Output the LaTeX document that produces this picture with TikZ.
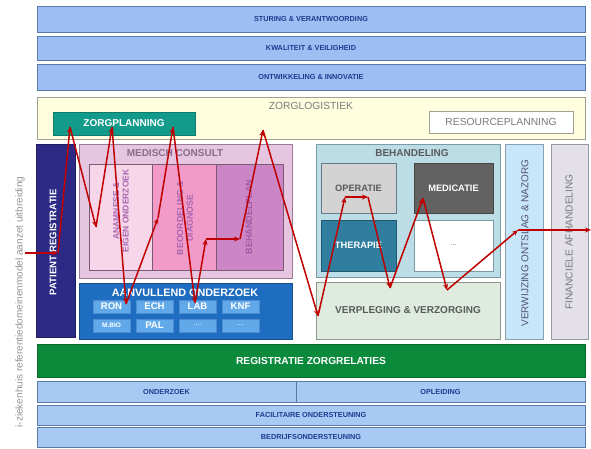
\documentclass[tikz,border=0pt]{standalone}
\usepackage{fontspec}
\setmainfont{Liberation Sans}
\usetikzlibrary{arrows.meta}

% palette
\definecolor{bandblue}{HTML}{9CBEF2}
\definecolor{bandlow}{HTML}{A8C9F3}
\definecolor{bandedge}{HTML}{5A7AA8}
\definecolor{bandtext}{HTML}{1F3A8F}
\definecolor{logfill}{HTML}{FFFFE0}
\definecolor{logedge}{HTML}{A0A090}
\definecolor{planfill}{HTML}{129A8A}
\definecolor{planedge}{HTML}{0E7A6E}
\definecolor{patfill}{HTML}{2D2A86}
\definecolor{consfill}{HTML}{E6C5E1}
\definecolor{consedge}{HTML}{9A7A95}
\definecolor{colA}{HTML}{F7D6EA}
\definecolor{colB}{HTML}{F29BC8}
\definecolor{colC}{HTML}{CD86C5}
\definecolor{coltext}{HTML}{A866B0}
\definecolor{coltextdark}{HTML}{A45AA6}
\definecolor{coledge}{HTML}{7A5A75}
\definecolor{aanfill}{HTML}{1F6DC0}
\definecolor{aanedge}{HTML}{1A4F8F}
\definecolor{smallfill}{HTML}{62A9EA}
\definecolor{smalledge}{HTML}{4F8BD0}
\definecolor{behfill}{HTML}{BCDDE6}
\definecolor{behedge}{HTML}{7A9AA5}
\definecolor{opfill}{HTML}{D3D3D3}
\definecolor{medfill}{HTML}{626262}
\definecolor{therfill}{HTML}{2F7E9F}
\definecolor{verpfill}{HTML}{DFEBDF}
\definecolor{verpedge}{HTML}{8A9A8A}
\definecolor{verwfill}{HTML}{C8E6FA}
\definecolor{verwedge}{HTML}{8AA0B0}
\definecolor{finfill}{HTML}{E3E0EA}
\definecolor{finedge}{HTML}{9A98A5}
\definecolor{regfill}{HTML}{0A8A3A}
\definecolor{regedge}{HTML}{0A6A2A}
\definecolor{greytext}{HTML}{7A7A7A}
\definecolor{darkgrey}{HTML}{5A5A5A}
\definecolor{flowred}{HTML}{C00000}

% box from corner (x1,y1) to corner (x2,y2), in pixel units
\newcommand\cellbox[7]{%
  \node[cell,#2,minimum width={#5pt-#3pt},minimum height={#6pt-#4pt}]
    (#1) at ({(#3+#5)/2},{(#4+#6)/2}) {#7};}

\newcommand\fs[1]{\fontsize{#1}{#1}\selectfont}

\tikzset{
  cell/.style={inner sep=0pt,outer sep=0pt,line width=0.8pt,align=center},
  topband/.style={fill=bandblue,draw=bandedge,text=bandtext,font=\bfseries\fs{7.3}},
  lowband/.style={fill=bandlow,draw=bandedge,text=bandtext,font=\bfseries\fs{7.3}},
  subcol/.style={draw=coledge,line width=0.7pt},
  small/.style={fill=smallfill,draw=smalledge,line width=0.6pt,text=white,font=\bfseries\fs{9.6}},
  title/.style={inner sep=0pt,font=\bfseries\fs{10}},
  flow/.style={draw=flowred,line width=1.5pt,line join=round,
    -{Stealth[length=6pt,width=5pt]}},
}

\begin{document}
\begin{tikzpicture}[x=1pt,y=-1pt]
\useasboundingbox (0,0) rectangle (591,448);
\fill[white] (0,0) rectangle (591,448);

% management layers
\cellbox{sturing}{topband}{37}{6}{585}{32}{STURING \& VERANTWOORDING}
\cellbox{kwaliteit}{topband}{37}{36}{585}{60}{KWALITEIT \& VEILIGHEID}
\cellbox{ontwikkeling}{topband}{37}{64}{585}{90}{ONTWIKKELING \& INNOVATIE}

% care logistics
\cellbox{logistiek}{fill=logfill,draw=logedge}{37}{97}{585}{139}{}
\node[title,font=\fs{10.3},text=greytext] (logistiek-t) at (311,106) {ZORGLOGISTIEK};
\cellbox{planning}{fill=planfill,draw=planedge,text=white,font=\bfseries\fs{10}}{53}{112}{195}{135}{ZORGPLANNING}
\cellbox{resource}{fill=white,draw=logedge,text=greytext,font=\fs{10.3}}{429}{111}{573}{133}{RESOURCEPLANNING}

% patient registration
\cellbox{patient}{fill=patfill,draw=patfill!70!black}{36}{144}{75}{337}{}
\node[rotate=90,inner sep=0pt,text=white,font=\bfseries\fs{9.6}] (patient-t) at (53,242) {PATIENT REGISTRATIE};

% medical consult
\cellbox{consult}{fill=consfill,draw=consedge}{79}{144}{292}{278}{}
\node[title,text=greytext!90!magenta] (consult-t) at (175,153) {MEDISCH CONSULT};
\cellbox{anamnese}{subcol,fill=colA}{89}{164}{152}{270}{}
\cellbox{diagnose}{subcol,fill=colB}{152}{164}{216}{270}{}
\cellbox{plan}{subcol,fill=colC}{216}{164}{283}{270}{}
\node[rotate=90,inner sep=0pt,align=center,text=coltext,font=\bfseries\fs{8.5}] (anamnese-t) at (121,211) {ANAMNESE \&\\[1pt]EIGEN ONDERZOEK};
\node[rotate=90,inner sep=0pt,align=center,text=coltext,font=\bfseries\fs{8.8}] (diagnose-t) at (185,218) {BEOORDELING \&\\[1pt]DIAGNOSE};
\node[rotate=90,inner sep=0pt,text=coltextdark,font=\bfseries\fs{9}] (plan-t) at (249,217) {BEHANDELPLAN};

% additional examinations
\cellbox{aanvullend}{fill=aanfill,draw=aanedge}{79}{283}{292}{339}{}
\node[title,text=white,font=\bfseries\fs{10.8}] (aanvullend-t) at (185,293) {AANVULLEND ONDERZOEK};
\cellbox{ron}{small}{93}{300}{130}{313}{RON}
\cellbox{ech}{small}{136}{300}{173}{313}{ECH}
\cellbox{lab}{small}{179}{300}{216}{313}{LAB}
\cellbox{knf}{small}{222}{300}{259}{313}{KNF}
\cellbox{mbio}{small,font=\bfseries\fs{6.5}}{93}{319}{130}{332}{M.BIO}
\cellbox{pal}{small}{136}{319}{173}{332}{PAL}
\cellbox{extraA}{small,font=\fs{7}}{179}{319}{216}{332}{....}
\cellbox{extraB}{small,font=\fs{7}}{222}{319}{259}{332}{....}

% treatment
\cellbox{behandeling}{fill=behfill,draw=behedge}{316}{144}{500}{277}{}
\node[title,font=\bfseries\fs{10},text=darkgrey] (behandeling-t) at (412,153) {BEHANDELING};
\cellbox{operatie}{fill=opfill,draw=behedge!80!black,text=darkgrey,font=\bfseries\fs{9.3}}{321}{163}{396}{213}{OPERATIE}
\cellbox{medicatie}{fill=medfill,draw=medfill!70!black,text=white,font=\bfseries\fs{9.3}}{414}{163}{493}{213}{MEDICATIE}
\cellbox{therapie}{fill=therfill,draw=therfill!70!black,text=white,font=\bfseries\fs{9.3}}{321}{220}{396}{271}{THERAPIE}
\cellbox{overig}{fill=white,draw=behedge,text=greytext,font=\fs{7.5}}{414}{220}{493}{271}{...}

% nursing
\cellbox{verpleging}{fill=verpfill,draw=verpedge,text=darkgrey,font=\bfseries\fs{10}}{316}{282}{500}{339}{VERPLEGING \& VERZORGING}

% referral and financial handling
\cellbox{verwijzing}{fill=verwfill,draw=verwedge}{505}{144}{543}{339}{}
\node[rotate=90,inner sep=0pt,text=darkgrey!90!blue,font=\fs{10}] (verwijzing-t) at (525,243) {VERWIJZING ONTSLAG \& NAZORG};
\cellbox{financieel}{fill=finfill,draw=finedge}{551}{144}{588}{339}{}
\node[rotate=90,inner sep=0pt,text=greytext,font=\fs{10.2}] (financieel-t) at (569,242) {FINANCIELE AFHANDELING};

% care relations
\cellbox{relaties}{fill=regfill,draw=regedge,text=white,font=\bfseries\fs{10.2}}{37}{344}{585}{377}{REGISTRATIE ZORGRELATIES}

% support layers
\cellbox{onderzoek}{lowband}{37}{381}{296}{402}{ONDERZOEK}
\cellbox{opleiding}{lowband}{296}{381}{585}{402}{OPLEIDING}
\cellbox{facilitair}{lowband}{37}{405}{585}{425}{FACILITAIRE ONDERSTEUNING}
\cellbox{bedrijf}{lowband}{37}{427}{585}{447.5}{BEDRIJFSONDERSTEUNING}

% side caption
\node[rotate=90,inner sep=0pt,text=greytext!80!white,font=\fs{10}] (caption) at (20,302) {i-ziekenhuis referentiedomeinenmodel aanzet uitbreiding};

% patient flow
\coordinate (f0) at (25,253);
\coordinate (f1) at (58,253);
\coordinate (f2) at (70,127);
\coordinate (f3) at (96,227);
\coordinate (f4) at (112,127);
\coordinate (f5) at (126,304);
\coordinate (f6) at (158,218);
\coordinate (f7) at (173,127);
\coordinate (f8) at (195,303);
\coordinate (f9) at (206,239);
\coordinate (f10) at (240,239);
\coordinate (f11) at (263,130);
\coordinate (f12) at (318,316);
\coordinate (f13) at (345,197);
\coordinate (f14) at (368,197);
\coordinate (f15) at (390,288);
\coordinate (f16) at (423,198);
\coordinate (f17) at (447,290);
\coordinate (f18) at (518,230);
\coordinate (f19) at (591,230);
\foreach \a/\b in {f0/f1,f1/f2,f2/f3,f3/f4,f4/f5,f5/f6,f6/f7,f7/f8,f8/f9,f9/f10,
  f10/f11,f11/f12,f12/f13,f13/f14,f14/f15,f15/f16,f16/f17,f17/f18,f18/f19}
  \draw[flow] (\a) -- (\b);
\end{tikzpicture}
\end{document}
